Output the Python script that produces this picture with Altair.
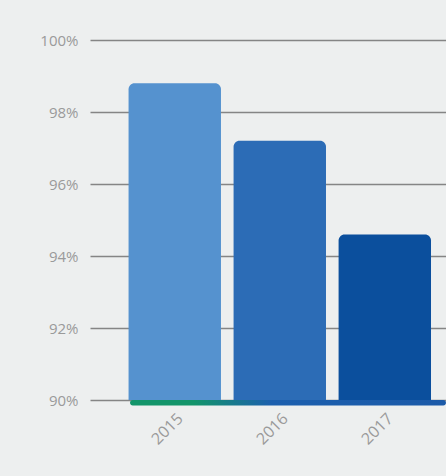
import altair as alt
import pandas as pd

years = ["2015", "2016", "2017"]
values = [98.8, 97.2, 94.6]
colors = ["#5592cf", "#2c6cb6", "#0b4f9d"]
y_ticks = [90, 92, 94, 96, 98, 100]

df = pd.DataFrame({"year": years, "value": values, "base": [90] * len(years), "color": colors})
base_df = pd.DataFrame({"y": [90.0], "y2": [89.85]})

W, H = 356, 360

x_scale = alt.Scale(domain=years, paddingInner=0.12, paddingOuter=0.255, align=0.72)
y_scale = alt.Scale(domain=[90, 100], nice=False, zero=False)

bars = alt.Chart(df).mark_bar(cornerRadiusTopLeft=6, cornerRadiusTopRight=6).encode(
    x=alt.X("year:N", scale=x_scale, sort=years,
            axis=alt.Axis(title=None, labelAngle=-45, labelFontSize=16, labelColor="#9a9a9a",
                          labelFont="Open Sans", domain=False, ticks=False, labelPadding=10,
                          grid=False)),
    y=alt.Y("value:Q", scale=y_scale,
            axis=alt.Axis(title=None, values=y_ticks, labelExpr="datum.value + '%'",
                          labelFontSize=15, labelColor="#9a9a9a", labelFont="Open Sans",
                          domain=False, ticks=False, labelPadding=12, grid=True,
                          gridColor="#858585", gridWidth=1.5)),
    y2="base:Q",
    color=alt.Color("color:N", scale=None, legend=None),
)

baseline = alt.Chart(base_df).mark_bar(
    cornerRadius=3,
    color=alt.Gradient(
        gradient="linear",
        stops=[alt.GradientStop(color="#13956a", offset=0),
               alt.GradientStop(color="#13956a", offset=0.2),
               alt.GradientStop(color="#1c5fae", offset=0.45),
               alt.GradientStop(color="#1c5aa8", offset=1)],
        x1=0, x2=1, y1=0, y2=0,
    ),
).encode(
    x=alt.value(40),
    x2=alt.value(W),
    y=alt.Y("y:Q", scale=y_scale),
    y2="y2:Q",
)

chart = alt.layer(bars, baseline).properties(
    width=W, height=H,
    background="#edefef",
    padding={"left": 90, "top": 40, "right": 0, "bottom": 76},
    autosize=alt.AutoSizeParams(type="none"),
).configure_view(stroke=None)

chart.save("out.html", embed_options={"renderer": "svg", "actions": False})
